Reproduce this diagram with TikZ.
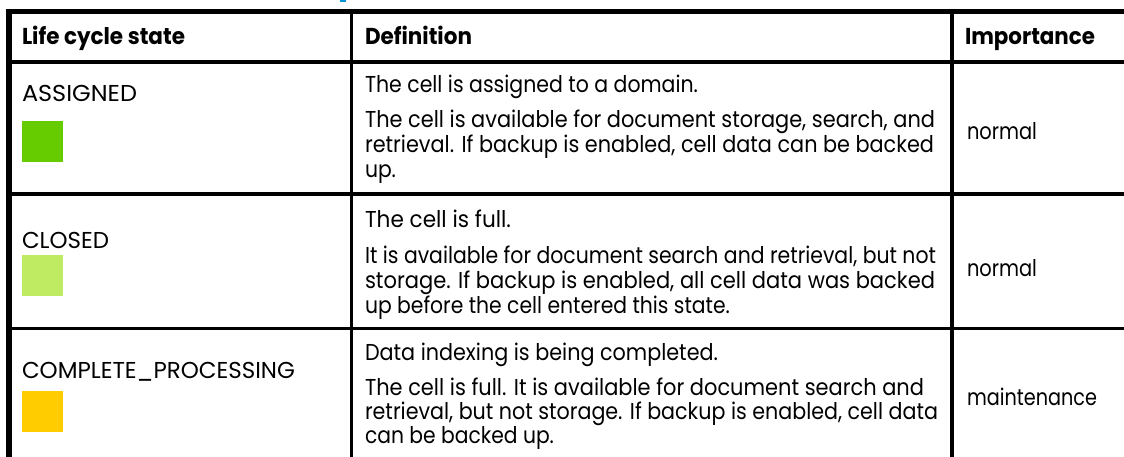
\documentclass[tikz,border=0pt]{standalone}
\usepackage{fontspec}
\usepackage{graphicx}
\setmainfont{Poppins}
\definecolor{assignedc}{HTML}{66CC00}
\definecolor{closedc}{HTML}{BFEB62}
\definecolor{completec}{HTML}{FFCC00}
\definecolor{hpblue}{HTML}{0096D6}
\newsavebox\measbox
\tikzset{
  txt/.style={anchor=base west, inner sep=0pt, outer sep=0pt, font=\fontsize{23}{25}\selectfont},
  hdr/.style={txt, font=\fontsize{23}{25}\selectfont\bfseries},
  outerrule/.style={line width=5.5pt},
  siderule/.style={line width=6pt},
  innerrule/.style={line width=3.6pt},
  swatch/.style={minimum width=41pt, minimum height=41pt, inner sep=0pt, outer sep=0pt, anchor=north west, draw=none},
}
% fit text horizontally to a target width (pt)
\newcommand\fitw[2]{%
  \sbox\measbox{#2}%
  \pgfmathsetmacro\fitf{(#1)/\the\wd\measbox}%
  \scalebox{\fitf}[1]{\usebox\measbox}}
% \tline{name}{x}{baseline y}{x end}{text}
\newcommand\tline[5]{\node[txt] (#1) at (#2,#3) {\fitw{#4-#2}{#5}};}
\newcommand\theadline[5]{\node[hdr] (#1) at (#2,#3) {\fitw{#4-#2}{#5}};}
\begin{document}
\begin{tikzpicture}[x=1pt,y=-1pt]
\useasboundingbox (0,0) rectangle (1124,457);
% cut-off title fragment
\fill[hpblue] (340,0) rectangle (346,2.5);
% rules
\draw[outerrule] (6,11.5) -- (1124,11.5);
\draw[siderule] (9,9) -- (9,457);
\draw[innerrule] (12,62) -- (1124,62);
\draw[innerrule] (12,194.3) -- (1124,194.3);
\draw[innerrule] (12,328.3) -- (1124,328.3);
\draw[innerrule] (351.5,14) -- (351.5,457);
\draw[innerrule] (952,14) -- (952,457);
% header
\theadline{h1}{22}{45}{185}{Life cycle state}
\theadline{h2}{365}{45}{472}{Definition}
\theadline{h3}{965}{45}{1095}{Importance}
% row 1
\tline{s1}{22}{102}{137}{ASSIGNED}
\node[swatch, fill=assignedc] (q1) at (22,121) {};
\tline{d1a}{365}{93}{698}{The cell is assigned to a domain.}
\tline{d1b}{365}{128}{935}{The cell is available for document storage, search, and}
\tline{d1c}{365}{153}{934}{retrieval. If backup is enabled, cell data can be backed}
\tline{d1d}{365}{178}{396}{up.}
\tline{i1}{967}{140}{1037}{normal}
% row 2
\tline{s2}{22}{248}{109}{CLOSED}
\node[swatch, fill=closedc] (q2) at (22,255) {};
\tline{d2a}{365}{228}{511}{The cell is full.}
\tline{d2b}{365}{263}{936}{It is available for document search and retrieval, but not}
\tline{d2c}{365}{288}{935}{storage. If backup is enabled, all cell data was backed}
\tline{d2d}{365}{313}{730}{up before the cell entered this state.}
\tline{i2}{967}{276}{1037}{normal}
% row 3
\tline{s3}{22}{378}{295}{COMPLETE\_PROCESSING}
\node[swatch, fill=completec] (q3) at (22,391) {};
\tline{d3a}{365}{360}{718}{Data indexing is being completed.}
\tline{d3b}{365}{395}{924}{The cell is full. It is available for document search and}
\tline{d3c}{365}{419}{938}{retrieval, but not storage. If backup is enabled, cell data}
\tline{d3d}{365}{443}{554}{can be backed up.}
\tline{i3}{967}{405}{1097}{maintenance}
\end{tikzpicture}
\end{document}
